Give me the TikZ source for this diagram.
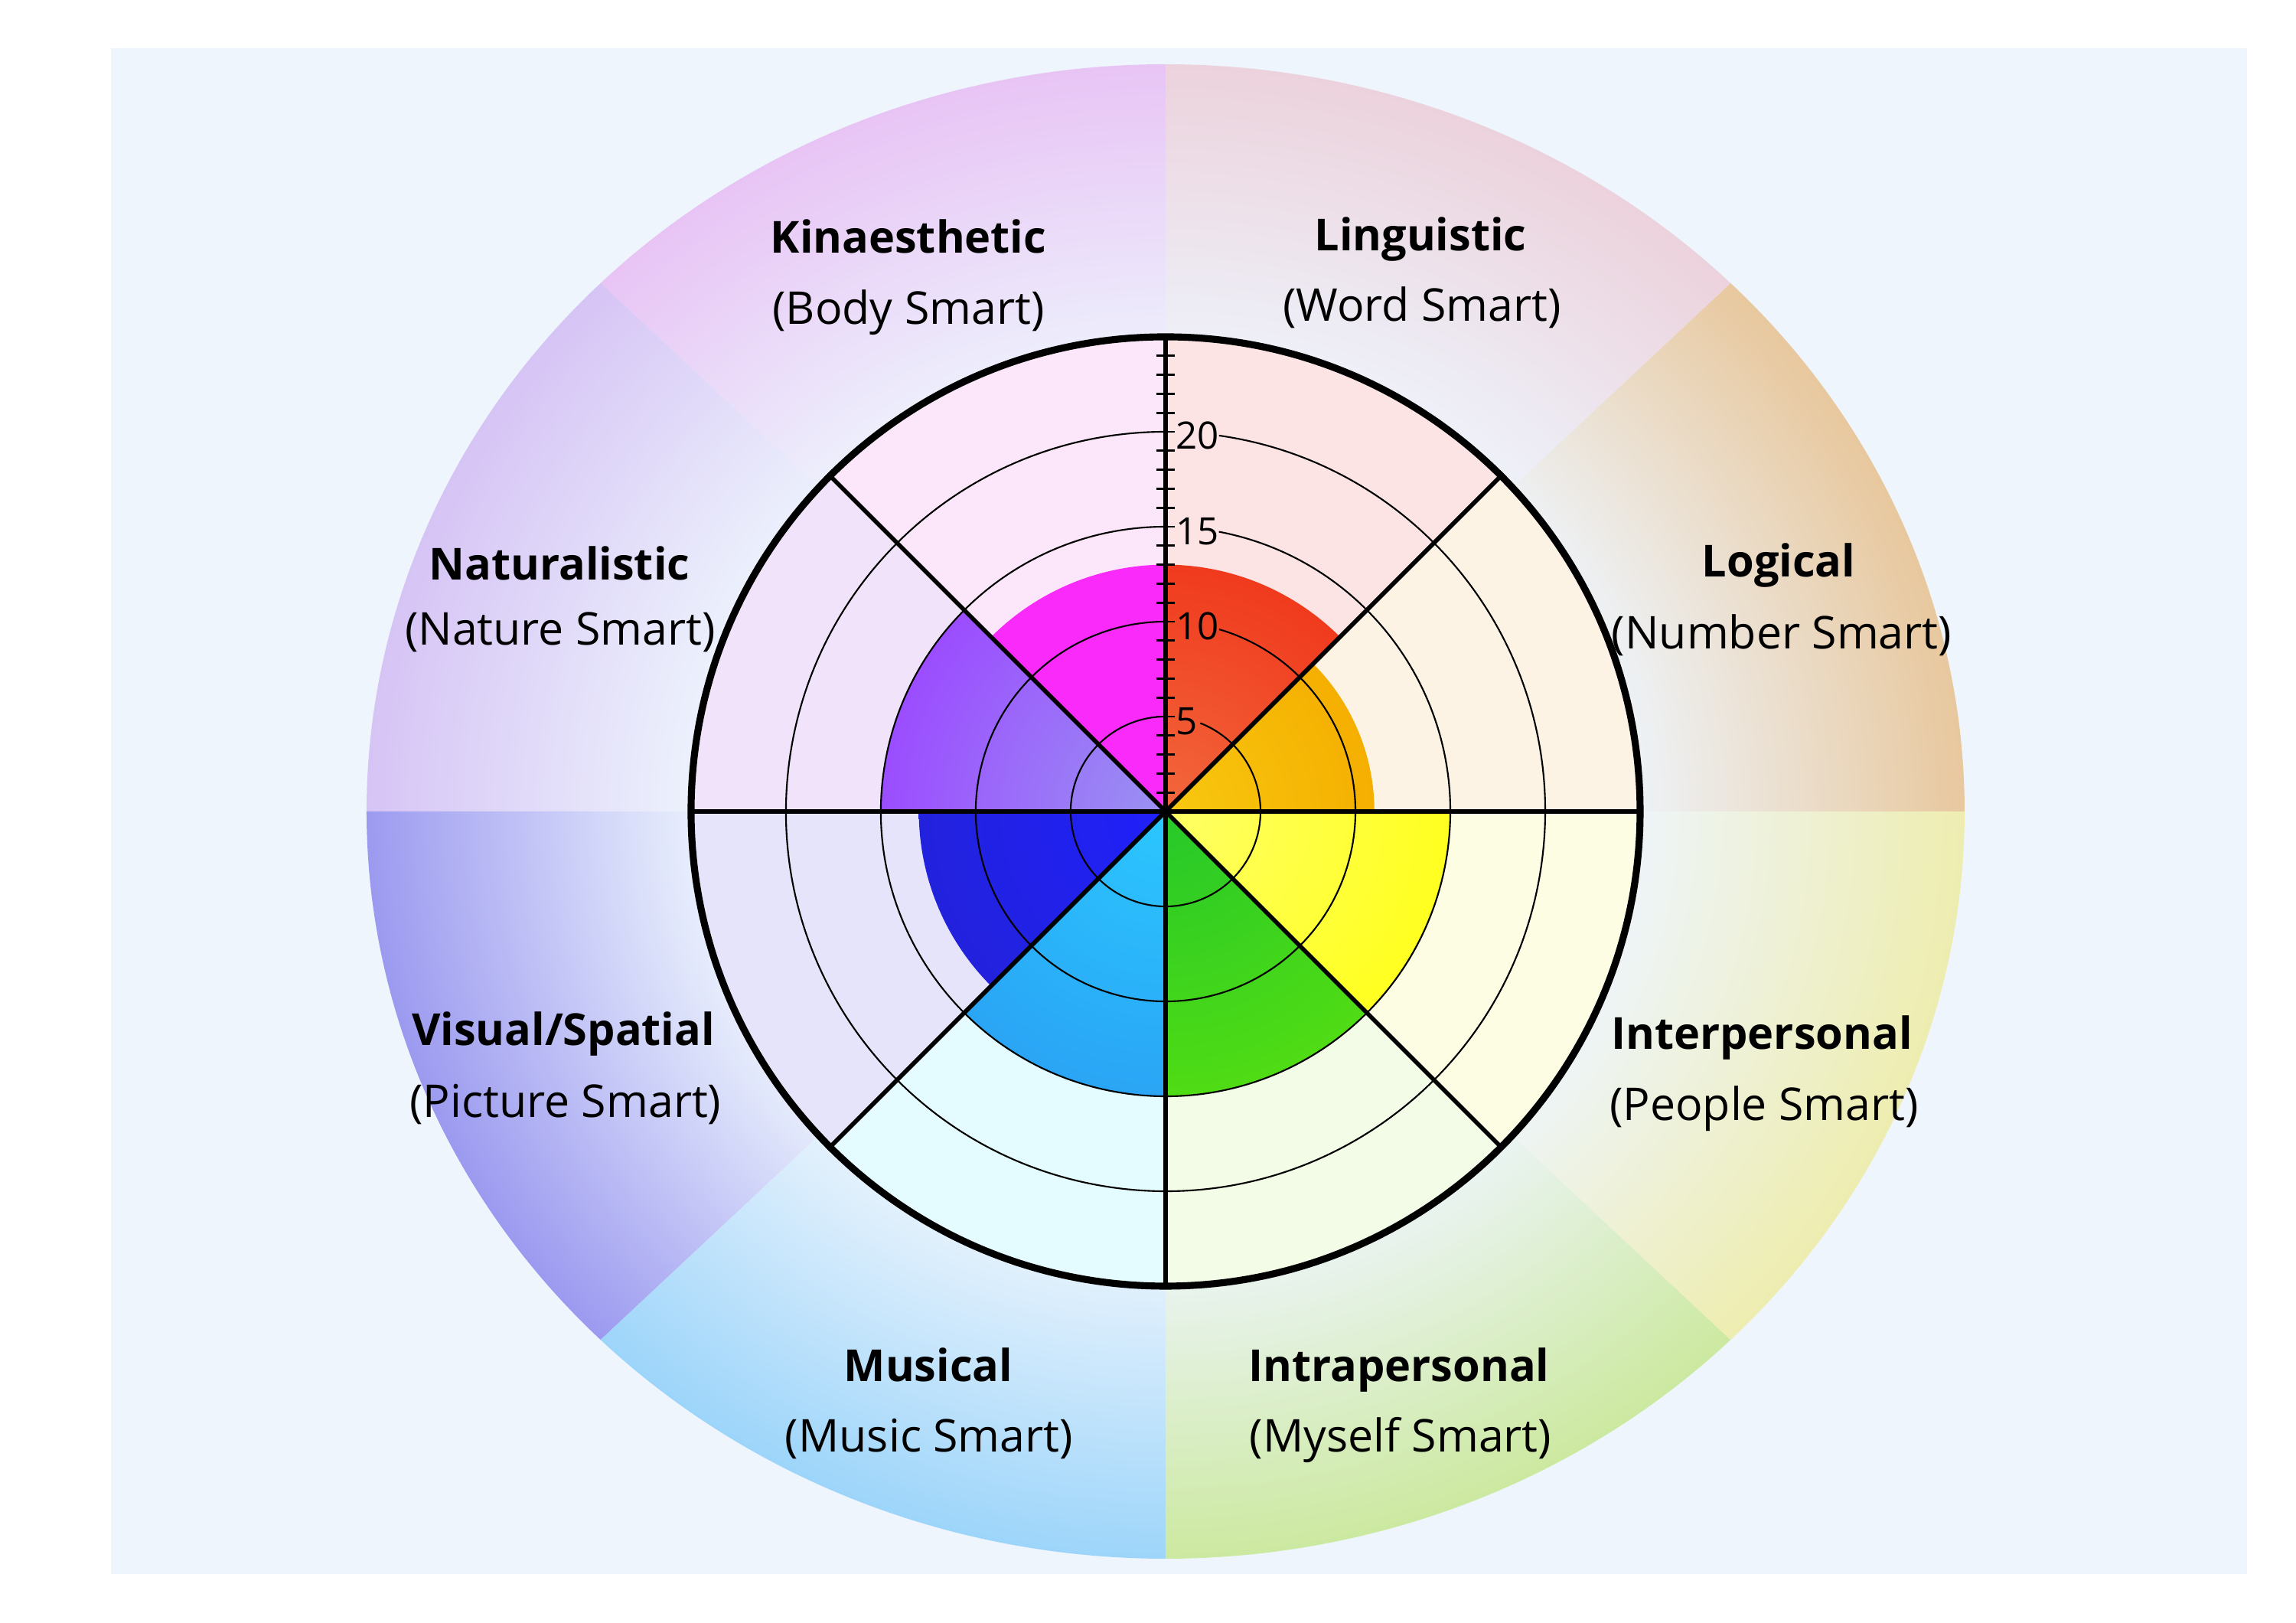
\documentclass[tikz,border=0pt]{standalone}
\usepackage{fontspec}
\setmainfont{Open Sans}
\definecolor{bgblue}{RGB}{238,245,253}
\definecolor{logrim}{RGB}{232,200,158}
\definecolor{lingrim}{RGB}{236,210,220}
\definecolor{kinrim}{RGB}{232,196,245}
\definecolor{natrim}{RGB}{214,196,245}
\definecolor{visrim}{RGB}{156,154,240}
\definecolor{musrim}{RGB}{157,213,250}
\definecolor{intrarim}{RGB}{204,233,160}
\definecolor{interrim}{RGB}{238,237,176}
\definecolor{logpale}{RGB}{253,243,228}
\definecolor{lingpale}{RGB}{253,228,228}
\definecolor{kinpale}{RGB}{252,230,250}
\definecolor{natpale}{RGB}{241,228,250}
\definecolor{vispale}{RGB}{230,228,250}
\definecolor{muspale}{RGB}{228,252,255}
\definecolor{intrapale}{RGB}{243,252,230}
\definecolor{interpale}{RGB}{253,253,228}
\definecolor{login}{RGB}{248,200,16}
\definecolor{logout}{RGB}{245,175,0}
\definecolor{lingin}{RGB}{242,104,60}
\definecolor{lingout}{RGB}{240,58,30}
\definecolor{kinfill}{RGB}{250,42,250}
\definecolor{natin}{RGB}{154,146,242}
\definecolor{natout}{RGB}{155,77,255}
\definecolor{visin}{RGB}{32,32,250}
\definecolor{visout}{RGB}{34,34,221}
\definecolor{musin}{RGB}{43,199,255}
\definecolor{musout}{RGB}{42,165,245}
\definecolor{intrain}{RGB}{38,200,42}
\definecolor{intraout}{RGB}{80,220,20}
\definecolor{interin}{RGB}{255,255,102}
\definecolor{interout}{RGB}{255,255,32}
\colorlet{rimcol}{white}
\pgfdeclareradialshading[bgblue,rimcol]{rimshade}{\pgfpoint{0bp}{0bp}}{color(0bp)=(bgblue); color(14bp)=(bgblue); color(25bp)=(rimcol); color(50bp)=(rimcol)}
\begin{document}
\begin{tikzpicture}[
  spoke/.style={black,line width=0.8pt},
  ring/.style={black,line width=0.3pt},
  tickmark/.style={black,line width=0.4pt},
  smartname/.style={font=\bfseries\fontsize{8.2}{10}\selectfont,anchor=base},
  smartsub/.style={font=\fontsize{8.4}{10}\selectfont,anchor=base},
  scalenum/.style={font=\fontsize{7}{8}\selectfont,anchor=west,inner sep=0pt}]
\useasboundingbox (-7.615,-5.30) rectangle (7.385,5.30);
\fill[white] (-7.615,-5.30) rectangle (7.385,5.30);
\fill[bgblue] (-6.89,-4.98) rectangle (7.065,4.985);
\begin{scope}
\clip (0,0) -- (0:5.22 and 4.88) arc[start angle=0, end angle=45, x radius=5.22, y radius=4.88] -- cycle;
\colorlet{rimcol}{logrim}
\shade[shading=rimshade] (0,0) ellipse [x radius=5.22, y radius=4.88];
\end{scope}
\begin{scope}
\clip (0,0) -- (45:5.22 and 4.88) arc[start angle=45, end angle=90, x radius=5.22, y radius=4.88] -- cycle;
\colorlet{rimcol}{lingrim}
\shade[shading=rimshade] (0,0) ellipse [x radius=5.22, y radius=4.88];
\end{scope}
\begin{scope}
\clip (0,0) -- (90:5.22 and 4.88) arc[start angle=90, end angle=135, x radius=5.22, y radius=4.88] -- cycle;
\colorlet{rimcol}{kinrim}
\shade[shading=rimshade] (0,0) ellipse [x radius=5.22, y radius=4.88];
\end{scope}
\begin{scope}
\clip (0,0) -- (135:5.22 and 4.88) arc[start angle=135, end angle=180, x radius=5.22, y radius=4.88] -- cycle;
\colorlet{rimcol}{natrim}
\shade[shading=rimshade] (0,0) ellipse [x radius=5.22, y radius=4.88];
\end{scope}
\begin{scope}
\clip (0,0) -- (180:5.22 and 4.88) arc[start angle=180, end angle=225, x radius=5.22, y radius=4.88] -- cycle;
\colorlet{rimcol}{visrim}
\shade[shading=rimshade] (0,0) ellipse [x radius=5.22, y radius=4.88];
\end{scope}
\begin{scope}
\clip (0,0) -- (225:5.22 and 4.88) arc[start angle=225, end angle=270, x radius=5.22, y radius=4.88] -- cycle;
\colorlet{rimcol}{musrim}
\shade[shading=rimshade] (0,0) ellipse [x radius=5.22, y radius=4.88];
\end{scope}
\begin{scope}
\clip (0,0) -- (270:5.22 and 4.88) arc[start angle=270, end angle=315, x radius=5.22, y radius=4.88] -- cycle;
\colorlet{rimcol}{intrarim}
\shade[shading=rimshade] (0,0) ellipse [x radius=5.22, y radius=4.88];
\end{scope}
\begin{scope}
\clip (0,0) -- (315:5.22 and 4.88) arc[start angle=315, end angle=360, x radius=5.22, y radius=4.88] -- cycle;
\colorlet{rimcol}{interrim}
\shade[shading=rimshade] (0,0) ellipse [x radius=5.22, y radius=4.88];
\end{scope}
\fill[logpale] (0,0) -- (0:3.10) arc[start angle=0, end angle=45, radius=3.10] -- cycle;
\fill[lingpale] (0,0) -- (45:3.10) arc[start angle=45, end angle=90, radius=3.10] -- cycle;
\fill[kinpale] (0,0) -- (90:3.10) arc[start angle=90, end angle=135, radius=3.10] -- cycle;
\fill[natpale] (0,0) -- (135:3.10) arc[start angle=135, end angle=180, radius=3.10] -- cycle;
\fill[vispale] (0,0) -- (180:3.10) arc[start angle=180, end angle=225, radius=3.10] -- cycle;
\fill[muspale] (0,0) -- (225:3.10) arc[start angle=225, end angle=270, radius=3.10] -- cycle;
\fill[intrapale] (0,0) -- (270:3.10) arc[start angle=270, end angle=315, radius=3.10] -- cycle;
\fill[interpale] (0,0) -- (315:3.10) arc[start angle=315, end angle=360, radius=3.10] -- cycle;
\begin{scope}
\clip (0,0) -- (0:1.364) arc[start angle=0, end angle=45, radius=1.364] -- cycle;
\shade[inner color=login, outer color=logout] (0,0) circle (1.364);
\end{scope}
\begin{scope}
\clip (0,0) -- (45:1.612) arc[start angle=45, end angle=90, radius=1.612] -- cycle;
\shade[inner color=lingin, outer color=lingout] (0,0) circle (1.612);
\end{scope}
\fill[kinfill] (0,0) -- (90:1.612) arc[start angle=90, end angle=135, radius=1.612] -- cycle;
\begin{scope}
\clip (0,0) -- (135:1.86) arc[start angle=135, end angle=180, radius=1.86] -- cycle;
\shade[inner color=natin, outer color=natout] (0,0) circle (1.86);
\end{scope}
\begin{scope}
\clip (0,0) -- (180:1.612) arc[start angle=180, end angle=225, radius=1.612] -- cycle;
\shade[inner color=visin, outer color=visout] (0,0) circle (1.612);
\end{scope}
\begin{scope}
\clip (0,0) -- (225:1.86) arc[start angle=225, end angle=270, radius=1.86] -- cycle;
\shade[inner color=musin, outer color=musout] (0,0) circle (1.86);
\end{scope}
\begin{scope}
\clip (0,0) -- (270:1.86) arc[start angle=270, end angle=315, radius=1.86] -- cycle;
\shade[inner color=intrain, outer color=intraout] (0,0) circle (1.86);
\end{scope}
\begin{scope}
\clip (0,0) -- (315:1.86) arc[start angle=315, end angle=360, radius=1.86] -- cycle;
\shade[inner color=interin, outer color=interout] (0,0) circle (1.86);
\end{scope}
\draw[ring] (68.5:0.62) arc[start angle=68.5, end angle=-270, radius=0.62];
\draw[ring] (73.6:1.24) arc[start angle=73.6, end angle=-270, radius=1.24];
\draw[ring] (79.2:1.86) arc[start angle=79.2, end angle=-270, radius=1.86];
\draw[ring] (81.9:2.48) arc[start angle=81.9, end angle=-270, radius=2.48];
\coordinate (O) at (0,0);
\coordinate (E) at (0:3.10);
\coordinate (NE) at (45:3.10);
\coordinate (N) at (90:3.10);
\coordinate (NW) at (135:3.10);
\coordinate (W) at (180:3.10);
\coordinate (SW) at (225:3.10);
\coordinate (S) at (270:3.10);
\coordinate (SE) at (315:3.10);
\draw[spoke] (W) -- (E);
\draw[spoke] (S) -- (N);
\draw[spoke] (SW) -- (NE);
\draw[spoke] (SE) -- (NW);
\draw[tickmark] (-0.062,0.124) -- (0.062,0.124);
\draw[tickmark] (-0.062,0.248) -- (0.062,0.248);
\draw[tickmark] (-0.062,0.372) -- (0.062,0.372);
\draw[tickmark] (-0.062,0.496) -- (0.062,0.496);
\draw[tickmark] (-0.062,0.620) -- (0.062,0.620);
\draw[tickmark] (-0.062,0.744) -- (0.062,0.744);
\draw[tickmark] (-0.062,0.868) -- (0.062,0.868);
\draw[tickmark] (-0.062,0.992) -- (0.062,0.992);
\draw[tickmark] (-0.062,1.116) -- (0.062,1.116);
\draw[tickmark] (-0.062,1.240) -- (0.062,1.240);
\draw[tickmark] (-0.062,1.364) -- (0.062,1.364);
\draw[tickmark] (-0.062,1.488) -- (0.062,1.488);
\draw[tickmark] (-0.062,1.612) -- (0.062,1.612);
\draw[tickmark] (-0.062,1.736) -- (0.062,1.736);
\draw[tickmark] (-0.062,1.860) -- (0.062,1.860);
\draw[tickmark] (-0.062,1.984) -- (0.062,1.984);
\draw[tickmark] (-0.062,2.108) -- (0.062,2.108);
\draw[tickmark] (-0.062,2.232) -- (0.062,2.232);
\draw[tickmark] (-0.062,2.356) -- (0.062,2.356);
\draw[tickmark] (-0.062,2.480) -- (0.062,2.480);
\draw[tickmark] (-0.062,2.604) -- (0.062,2.604);
\draw[tickmark] (-0.062,2.728) -- (0.062,2.728);
\draw[tickmark] (-0.062,2.852) -- (0.062,2.852);
\draw[tickmark] (-0.062,2.976) -- (0.062,2.976);
\draw[black,line width=1.3pt] (O) circle (3.10);
\node[scalenum] (s5) at (0.06,0.59) {5};
\node[scalenum] (s10) at (0.06,1.21) {10};
\node[scalenum] (s15) at (0.06,1.83) {15};
\node[scalenum] (s20) at (0.06,2.455) {20};
\node[smartname] (kin) at (-1.68,3.645) {Kinaesthetic};
\node[smartsub] (kinsub) at (-1.68,3.18) {(Body Smart)};
\node[smartname] (ling) at (1.665,3.66) {Linguistic};
\node[smartsub] (lingsub) at (1.675,3.20) {(Word Smart)};
\node[smartname] (nat) at (-3.96,1.51) {Naturalistic};
\node[smartsub] (natsub) at (-3.955,1.085) {(Nature Smart)};
\node[smartname] (log) at (4.005,1.53) {Logical};
\node[smartsub] (logsub) at (4.025,1.06) {(Number Smart)};
\node[smartname] (vis) at (-3.935,-1.53) {Visual/Spatial};
\node[smartsub] (vissub) at (-3.92,-2.00) {(Picture Smart)};
\node[smartname] (inter) at (3.895,-1.555) {Interpersonal};
\node[smartsub] (intersub) at (3.91,-2.02) {(People Smart)};
\node[smartname] (mus) at (-1.55,-3.725) {Musical};
\node[smartsub] (mussub) at (-1.545,-4.185) {(Music Smart)};
\node[smartname] (intra) at (1.525,-3.725) {Intrapersonal};
\node[smartsub] (intrasub) at (1.535,-4.185) {(Myself Smart)};
\end{tikzpicture}
\end{document}
